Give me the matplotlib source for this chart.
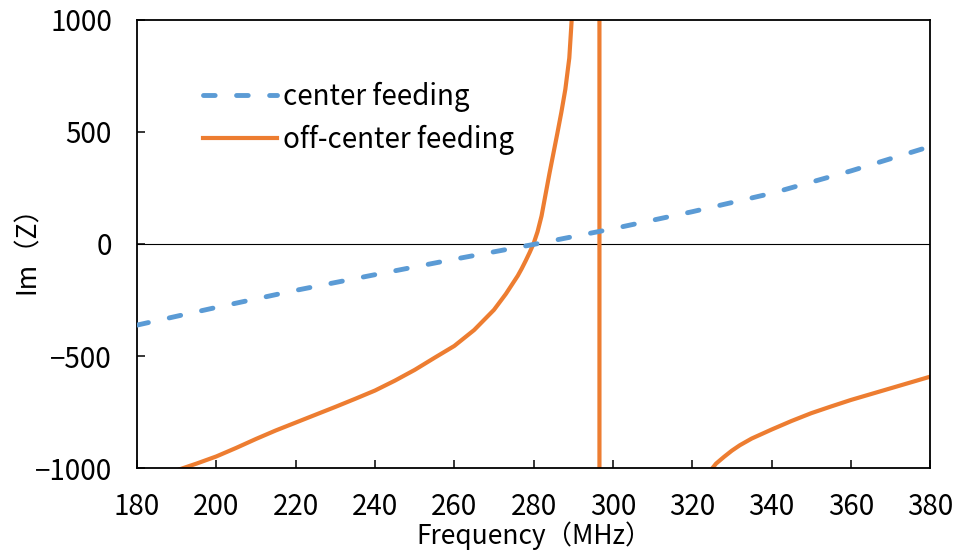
import numpy as np
import matplotlib
matplotlib.use('Agg')
import matplotlib.pyplot as plt

plt.rcParams['font.family'] = ['Noto Sans CJK JP', 'DejaVu Sans']
plt.rcParams['axes.unicode_minus'] = True

# center feeding, Im(Z) vs frequency
freq_center = [180, 200, 220, 240, 260, 280, 300, 320, 340, 360, 380]
im_center = [-362, -283, -207, -137, -68, -2, 68, 144, 226, 326, 435]

# off-center feeding (values outside +-1000 run off the plot)
freq_off = [180, 185, 190, 195, 200, 205, 210, 215, 220, 225, 230, 235, 240,
            245, 250, 255, 260, 265, 270, 273, 276, 277, 278, 279, 280, 281,
            282, 283, 284, 285, 286, 287, 288, 289, 289.6, 290, 291, 293, 295,
            296.5, 296.7, 300, 305, 310, 315, 320, 322, 325, 326, 328, 330,
            332, 335, 340, 345, 350, 355, 360, 365, 370, 375, 380]
im_off = [-1200, -1100, -1010, -980, -948, -910, -870, -832, -797, -762, -727,
          -691, -654, -610, -562, -508, -455, -384, -294, -223, -142, -110,
          -75, -38, 2, 55, 125, 220, 315, 405, 495, 588, 690, 830, 1000, 1120,
          1500, 3000, 8000, 40000, -40000, -5000, -2600, -1800, -1400, -1150,
          -1070, -1002, -980, -950, -922, -898, -868, -828, -790, -755, -725,
          -696, -670, -644, -618, -592]

blue = '#5B9BD5'
orange = '#ED7D31'

fig = plt.figure(figsize=(9.58, 5.52), dpi=100)
ax = fig.add_axes([0.143, 0.152, 0.828, 0.812])

ax.axhline(0, color='black', lw=0.8, zorder=1)
ax.plot(freq_center, im_center, color=blue, lw=3.5, linestyle=(0, (2.4, 4.4)),
        dash_capstyle='round', label='center feeding', zorder=3)
ax.plot(freq_off, im_off, color=orange, lw=3.0, label='off-center feeding', zorder=2)

ax.set_xlim(180, 380)
ax.set_ylim(-1000, 1000)
ax.set_xticks(np.arange(180, 381, 20))
ax.set_yticks(np.arange(-1000, 1001, 500))

for s in ax.spines.values():
    s.set_linewidth(1.3)
ax.tick_params(direction='in', length=6, width=1.1, labelsize=20)
ax.tick_params(axis='x', pad=17)
ax.tick_params(axis='y', pad=18)

ax.set_xlabel('Frequency（MHz）', fontsize=19, labelpad=0)
ax.set_ylabel('Im（Z）', fontsize=19, labelpad=-4.5)

ax.legend(loc='upper left', bbox_to_anchor=(0.083, 0.862), frameon=False,
          fontsize=20, handlelength=2.66, handletextpad=0.22,
          labelspacing=0.47, borderpad=0, borderaxespad=0)

fig.savefig('out.png', dpi=100)
